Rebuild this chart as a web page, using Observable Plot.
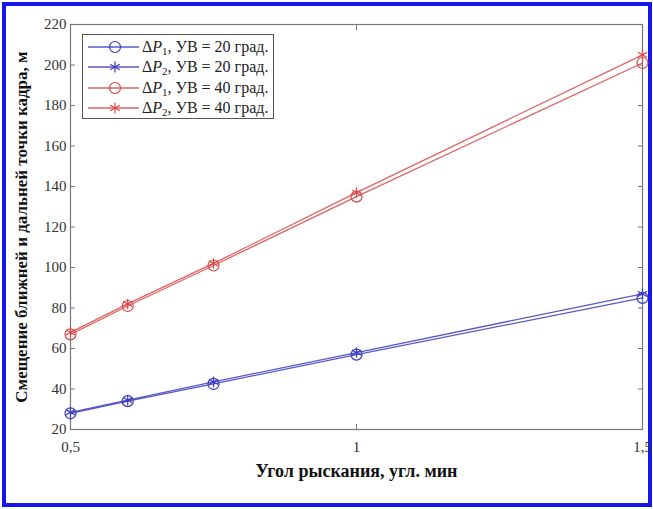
<!DOCTYPE html>
<html>
<head>
<meta charset="utf-8">
<script src="https://cdn.jsdelivr.net/npm/d3@7"></script>
<script src="https://cdn.jsdelivr.net/npm/@observablehq/plot@0.6"></script>
<style>
  html, body { margin: 0; padding: 0; background: #fff; }
  #wrap { position: relative; width: 653px; height: 509px; }
  #legend { position: absolute; left: 82px; top: 34px; width: 190px; height: 83px;
    border: 1px solid #555; background: #fff; font-family: "Liberation Serif", "Times New Roman", serif; font-size: 16px; color: #222; }
  .row { position: absolute; left: 0; height: 20px; width: 190px; }
  .row svg { position: absolute; left: 5px; top: 0; }
  .row span { position: absolute; left: 59px; top: 0px; white-space: nowrap; line-height: 20px; font-family: "Liberation Serif", serif; }
  sub { font-size: 11px; vertical-align: -3px; line-height: 0; }
</style>
</head>
<body>
<div id="wrap"></div>
<script>
const angles = [0.5, 0.6, 0.75, 1, 1.5];
const blueP1 = [28, 34, 42.5, 57, 85];
const blueP2 = [28.5, 34.5, 43.5, 58, 87];
const redP1 = [67, 81, 101, 135, 201];
const redP2 = [68, 82, 102, 137, 205];
const xTicks = [0.5, 1, 1.5];
const yTicks = [20, 40, 60, 80, 100, 120, 140, 160, 180, 200, 220];

const seriesDefs = [
  {key: "bp1", values: blueP1, color: "#3b3bbf", symbol: "circle", uv: "20", p: "1"},
  {key: "bp2", values: blueP2, color: "#3b3bbf", symbol: "asterisk", uv: "20", p: "2"},
  {key: "rp1", values: redP1, color: "#d94848", symbol: "circle", uv: "40", p: "1"},
  {key: "rp2", values: redP2, color: "#d94848", symbol: "asterisk", uv: "40", p: "2"}
];
const data = seriesDefs.flatMap(s => angles.map((a, i) => ({series: s.key, x: a, y: s.values[i]})));

const fmt = d => String(d).replace(".", ",");
const font = "Liberation Serif";

const chart = Plot.plot({
  width: 653,
  height: 509,
  marginLeft: 70,
  marginRight: 11,
  marginTop: 24,
  marginBottom: 80,
  style: {fontFamily: font, fontSize: "15px", color: "#333", background: "#fff"},
  x: {domain: [0.5, 1.5]},
  y: {domain: [20, 220]},
  marks: [
    Plot.frame({stroke: "#777", strokeWidth: 1.2}),
    Plot.axisX(xTicks, {anchor: "bottom", tickSize: -5, tickPadding: 17, tickFormat: fmt, label: null, stroke: "#777", fill: "#333"}),
    Plot.axisX(xTicks, {anchor: "top", tickSize: -5, tickFormat: () => "", label: null, stroke: "#777"}),
    Plot.axisY(yTicks, {anchor: "left", tickSize: -5, tickPadding: 9, label: null, stroke: "#777", fill: "#333"}),
    Plot.axisY(yTicks, {anchor: "right", tickSize: -5, tickFormat: () => "", label: null, stroke: "#777"}),
    ...seriesDefs.map(s => Plot.line(data.filter(d => d.series === s.key), {x: "x", y: "y", stroke: s.color, strokeWidth: 1.3, strokeOpacity: 0.85})),
    ...seriesDefs.map(s => Plot.dot(data.filter(d => d.series === s.key), {x: "x", y: "y", stroke: s.color, fill: "none", symbol: s.symbol, r: s.symbol === "circle" ? 5.5 : 5, strokeWidth: 1.2})),
    Plot.text(["Смещение ближней и дальней точки кадра, м"], {frameAnchor: "left", textAnchor: "middle", dx: -49, rotate: -90, fontWeight: "bold", fontSize: 17, fill: "#111", fontFamily: font}),
    Plot.text(["Угол рыскания, угл. мин"], {frameAnchor: "bottom", textAnchor: "middle", dy: 47, fontWeight: "bold", fontSize: 18, fill: "#111", fontFamily: font})
  ]
});

const svg = d3.select(chart);
svg.insert("rect", ":first-child")
  .attr("x", 4).attr("y", 4).attr("width", 646).attr("height", 501)
  .attr("fill", "none").attr("stroke", "#1515ee").attr("stroke-width", 4);

const wrap = document.getElementById("wrap");
wrap.appendChild(chart);

const legend = document.createElement("div");
legend.id = "legend";
seriesDefs.forEach((s, i) => {
  const row = document.createElement("div");
  row.className = "row";
  row.style.top = (2 + i * 20.3) + "px";
  const sym = s.symbol === "circle"
    ? `<circle cx="27" cy="10" r="5.5" fill="none" stroke="${s.color}" stroke-width="1.2"/>`
    : `<path d="M27,4.5V15.5M22.2,7.2L31.8,12.8M22.2,12.8L31.8,7.2" stroke="${s.color}" stroke-width="1.2"/>`;
  row.innerHTML = `<svg width="52" height="20"><line x1="0" y1="10" x2="51" y2="10" stroke="${s.color}" stroke-width="1.3" stroke-opacity="0.85"/>${sym}</svg>` +
    `<span>Δ<i>P</i><sub>${s.p}</sub>, УВ = ${s.uv} град.</span>`;
  legend.appendChild(row);
});
wrap.appendChild(legend);
</script>
</body>
</html>
